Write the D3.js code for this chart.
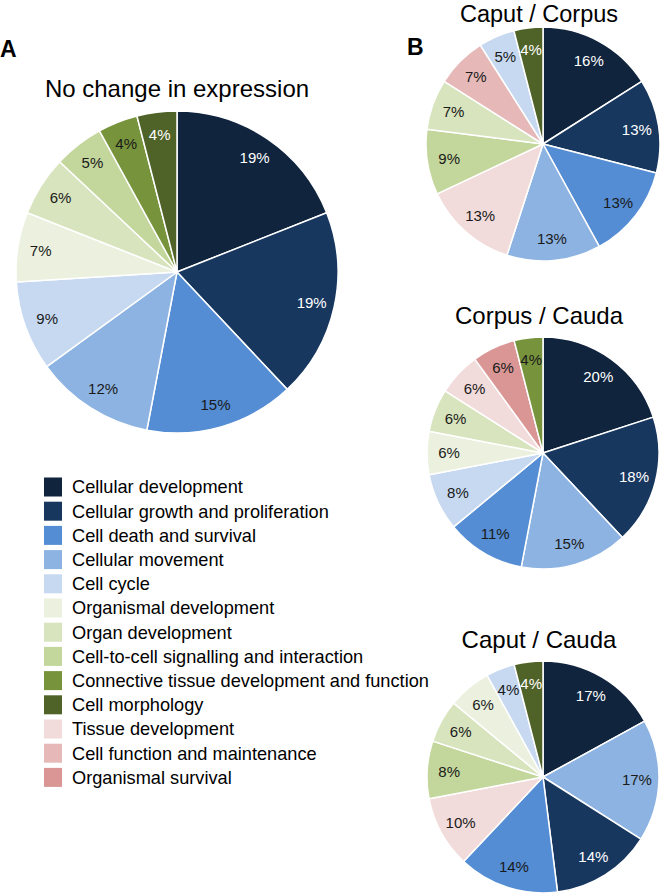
<!DOCTYPE html>
<html>
<head>
<meta charset="utf-8">
<script src="https://cdn.jsdelivr.net/npm/d3@7"></script>
<style>
  html, body { margin: 0; padding: 0; background: #fff; }
  svg text { font-family: "Liberation Sans", Arial, Helvetica, sans-serif; }
</style>
</head>
<body>
<svg id="chart" width="660" height="896"></svg>
<script>
// ---- Data ----
const categories = [
  "Cellular development",
  "Cellular growth and proliferation",
  "Cell death and survival",
  "Cellular movement",
  "Cell cycle",
  "Organismal development",
  "Organ development",
  "Cell-to-cell signalling and interaction",
  "Connective tissue development and function",
  "Cell morphology",
  "Tissue development",
  "Cell function and maintenance",
  "Organismal survival"
];
const categoryColors = [
  "#10243e", "#18375f", "#548dd4", "#8db3e2", "#c6d9f1",
  "#ebf1de", "#d7e4bd", "#c3d69b", "#77933c", "#4f6228",
  "#f2dcdb", "#e6b9b8", "#d99694"
];
const lightTextCats = ["Cellular development", "Cellular growth and proliferation", "Cell morphology"];

const noChangeCats = ["Cellular development", "Cellular growth and proliferation", "Cell death and survival",
  "Cellular movement", "Cell cycle", "Organismal development", "Organ development",
  "Cell-to-cell signalling and interaction", "Connective tissue development and function", "Cell morphology"];
const noChangeValues = [19, 19, 15, 12, 9, 7, 6, 5, 4, 4];

const caputCorpusCats = ["Cellular development", "Cellular growth and proliferation", "Cell death and survival",
  "Cellular movement", "Tissue development", "Cell-to-cell signalling and interaction", "Organ development",
  "Cell function and maintenance", "Cell cycle", "Cell morphology"];
const caputCorpusValues = [16, 13, 13, 13, 13, 9, 7, 7, 5, 4];

const corpusCaudaCats = ["Cellular development", "Cellular growth and proliferation", "Cellular movement",
  "Cell death and survival", "Cell cycle", "Organismal development", "Organ development",
  "Tissue development", "Organismal survival", "Connective tissue development and function"];
const corpusCaudaValues = [20, 18, 15, 11, 8, 6, 6, 6, 6, 4];

const caputCaudaCats = ["Cellular development", "Cellular movement", "Cellular growth and proliferation",
  "Cell death and survival", "Tissue development", "Cell-to-cell signalling and interaction",
  "Organ development", "Organismal development", "Cell cycle", "Cell morphology"];
const caputCaudaValues = [17, 17, 14, 14, 10, 8, 6, 6, 4, 4];

// ---- Drawing ----
const svg = d3.select("#chart");
const color = d3.scaleOrdinal().domain(categories).range(categoryColors);

function drawPie(cats, values, cx, cy, r, labelR, title, titleX, titleY, titleSize) {
  const data = cats.map((c, i) => ({ cat: c, v: values[i] }));
  const pie = d3.pie().sort(null).value(d => d.v);
  const arc = d3.arc().innerRadius(0).outerRadius(r);
  const labelArc = d3.arc().innerRadius(labelR).outerRadius(labelR);
  const g = svg.append("g").attr("transform", `translate(${cx},${cy})`);
  const arcs = pie(data);
  g.selectAll("path").data(arcs).join("path")
    .attr("d", arc)
    .attr("fill", d => color(d.data.cat))
    .attr("stroke", "#ffffff")
    .attr("stroke-width", 1.5)
    .attr("stroke-linejoin", "round");
  g.selectAll("text.lbl").data(arcs).join("text")
    .attr("class", "lbl")
    .attr("transform", d => `translate(${labelArc.centroid(d)})`)
    .attr("text-anchor", "middle")
    .attr("dy", "0.36em")
    .attr("font-size", 15)
    .attr("fill", d => lightTextCats.includes(d.data.cat) ? "#ffffff" : "#1a1a1a")
    .text(d => d.data.v + "%");
  svg.append("text")
    .attr("x", titleX).attr("y", titleY)
    .attr("text-anchor", "middle")
    .attr("font-size", titleSize)
    .attr("fill", "#000")
    .text(title);
}

// Panel letters
svg.append("text").attr("x", 0).attr("y", 57).attr("font-size", 23).attr("font-weight", "bold").text("A");
svg.append("text").attr("x", 407).attr("y", 55).attr("font-size", 23).attr("font-weight", "bold").text("B");

drawPie(noChangeCats, noChangeValues, 177, 272, 161, 138, "No change in expression", 177, 97, 24);
drawPie(caputCorpusCats, caputCorpusValues, 543, 144, 117, 95, "Caput / Corpus", 539, 21.5, 23.5);
drawPie(corpusCaudaCats, corpusCaudaValues, 543, 453, 116, 94, "Corpus / Cauda", 539, 324, 24);
drawPie(caputCaudaCats, caputCaudaValues, 543, 777, 116, 94, "Caput / Cauda", 539, 648, 24);

// Legend
const legendY = d3.scalePoint().domain(categories).range([487, 487 + 24.2 * 12]);
const lg = svg.append("g");
const items = lg.selectAll("g").data(categories).join("g")
  .attr("transform", d => `translate(44,${legendY(d)})`);
items.append("rect")
  .attr("x", 0).attr("y", -9.5).attr("width", 18).attr("height", 19)
  .attr("fill", d => color(d));
items.append("text")
  .attr("x", 28).attr("y", 0).attr("dy", "0.35em")
  .attr("font-size", 18.2).attr("fill", "#000")
  .text(d => d);
</script>
</body>
</html>
